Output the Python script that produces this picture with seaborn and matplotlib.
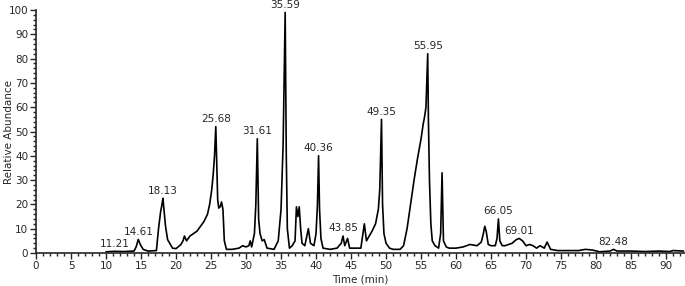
import numpy as np
import pandas as pd
import matplotlib
matplotlib.use("Agg")
import matplotlib.pyplot as plt
from matplotlib.ticker import MultipleLocator
import seaborn as sns

# retention time (min) and relative abundance
time_min = [
    10.0, 11.21, 12.5, 14.0, 14.3, 14.61, 14.9, 15.3, 16.0, 17.2, 17.5, 17.8,
    18.0, 18.13, 18.3, 18.5, 18.8, 19.5, 20.0, 20.7, 21.0, 21.2, 21.5, 22.0,
    22.5, 23.0, 23.5, 24.0, 24.5, 24.8, 25.1, 25.3, 25.5, 25.68, 25.8, 25.95,
    26.1, 26.3, 26.5, 26.7, 26.9, 27.2, 28.0, 29.0, 29.5, 30.0, 30.4, 30.6,
    30.8, 31.2, 31.4, 31.61, 31.8, 32.0, 32.3, 32.6, 33.0, 34.0, 34.6, 35.0,
    35.3, 35.59, 35.75, 35.9, 36.2, 36.6, 37.0, 37.2, 37.4, 37.6, 37.8, 38.0,
    38.4, 38.9, 39.2, 39.7, 40.0, 40.2, 40.36, 40.5, 40.7, 41.0, 42.0, 43.0,
    43.6, 43.85, 44.1, 44.5, 44.8, 45.5, 46.4, 46.9, 47.2, 47.6, 48.0, 48.5,
    48.9, 49.1, 49.35, 49.5, 49.7, 50.0, 50.5, 51.0, 52.0, 52.5, 53.0, 53.5,
    54.0, 54.5, 55.0, 55.3, 55.5, 55.7, 55.95, 56.05, 56.2, 56.4, 56.6, 57.0,
    57.5, 57.8, 58.0, 58.2, 58.6, 59.0, 60.0, 61.0, 62.0, 63.0, 63.6, 63.9,
    64.1, 64.3, 64.6, 65.0, 65.6, 65.85, 66.05, 66.25, 66.6, 67.0, 68.0, 68.6,
    69.01, 69.5, 70.0, 70.5, 71.0, 71.5, 72.0, 72.6, 73.0, 73.5, 74.5, 76.0,
    77.5, 78.5, 79.5, 80.5, 82.0, 82.48, 83.0, 85.0, 87.0, 89.0, 90.5, 91.0,
    92.5,
]
abundance = [
    0.5, 0.7, 0.6, 0.8, 2.5, 5.6, 3.5, 1.5, 0.8, 1.0, 10.0, 17.0,
    20.0, 22.5, 17.0, 11.0, 5.5, 2.0, 1.8, 3.5, 5.0, 7.0, 5.0, 7.0,
    8.0, 9.0, 11.0, 13.0, 16.0, 20.0, 26.0, 32.0, 40.0, 52.0, 38.0, 22.0,
    18.5, 19.0, 21.0, 18.0, 5.0, 1.5, 1.5, 2.0, 3.0, 2.5, 3.0, 5.0,
    2.5, 8.0, 20.0, 47.0, 14.0, 8.0, 5.0, 5.5, 2.0, 1.5, 5.0, 18.0,
    45.0, 99.0, 40.0, 10.0, 2.0, 3.0, 5.0, 19.0, 15.0, 19.0, 10.0, 4.0,
    3.0, 10.0, 4.0, 3.0, 8.0, 20.0, 40.0, 18.0, 6.0, 2.0, 1.5, 2.0,
    4.0, 7.0, 3.0, 6.0, 2.0, 2.0, 2.0, 12.0, 5.0, 7.0, 9.0, 12.0,
    18.0, 26.0, 55.0, 20.0, 8.0, 4.0, 2.0, 1.5, 1.5, 3.0, 10.0, 20.0,
    30.0, 39.0, 47.0, 53.0, 56.0, 60.0, 82.0, 55.0, 30.0, 12.0, 5.0, 3.0,
    2.0, 8.0, 33.0, 5.0, 2.5, 2.0, 2.0, 2.5, 3.5, 3.0, 4.5, 8.0,
    11.0, 9.0, 3.5, 3.0, 3.0, 6.0, 14.0, 5.0, 3.0, 3.0, 4.0, 5.5,
    6.0, 5.0, 3.0, 3.5, 3.0, 2.0, 3.0, 2.0, 4.5, 1.5, 1.0, 1.0,
    1.0, 1.5, 1.2, 0.5, 0.8, 1.5, 0.8, 0.8, 0.6, 0.8, 0.6, 1.0,
    0.8,
]
peak_labels = ["11.21", "14.61", "18.13", "25.68", "31.61", "35.59", "40.36",
               "43.85", "49.35", "55.95", "66.05", "69.01", "82.48"]

df = pd.DataFrame({"time": time_min, "abundance": abundance})

sns.set_style("ticks")
plt.rcParams["font.family"] = ["DejaVu Sans"]

fig = plt.figure(figsize=(6.85, 2.86), dpi=100)
ax = fig.add_axes([36 / 685, 33 / 286, 649 / 685, 243 / 286])

sns.lineplot(data=df, x="time", y="abundance", color="black", linewidth=1.2, ax=ax)

# peak annotations sit just above each labelled peak
for lab in peak_labels:
    t = float(lab)
    near = df[(df["time"] - t).abs() < 0.3]
    top = near["abundance"].max()
    ax.annotate(lab, (t, top), xytext=(0, 2), textcoords="offset points",
                ha="center", va="bottom", fontsize=7.5, annotation_clip=False)

ax.set_xlim(0, 92.7)
ax.set_ylim(0, 100)
ax.xaxis.set_major_locator(MultipleLocator(5))
ax.xaxis.set_minor_locator(MultipleLocator(1))
ax.yaxis.set_major_locator(MultipleLocator(10))
ax.yaxis.set_minor_locator(MultipleLocator(2))
ax.tick_params(which="major", length=4, width=1, labelsize=7.5, pad=1.5)
ax.tick_params(which="minor", length=2.5, width=1)
sns.despine(ax=ax)
ax.spines["left"].set_linewidth(1.2)
ax.spines["bottom"].set_linewidth(1.2)
ax.set_xlabel("Time (min)", fontsize=7.5)
ax.set_ylabel("Relative Abundance", fontsize=7.5)
ax.xaxis.set_label_coords((360 - 36) / 649, -22 / 243)
ax.yaxis.set_label_coords((14 - 36) / 649, 0.5)

fig.savefig("out.png", dpi=100)
